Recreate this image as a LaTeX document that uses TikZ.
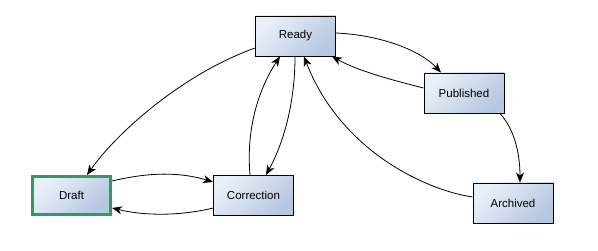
\documentclass[tikz,border=0pt]{standalone}
\usepackage{fontspec}
\setmainfont{Liberation Sans}
\usetikzlibrary{arrows.meta}
\definecolor{boxlight}{HTML}{EAF0F9}
\definecolor{boxdark}{HTML}{B6C7E1}
\definecolor{draftgreen}{HTML}{2E9B63}
\begin{document}
\begin{tikzpicture}[x=1pt,y=1pt,
  state/.style={draw=black, line width=0.9pt, top color=boxlight, bottom color=boxdark, shading angle=45,
    minimum width=80pt, minimum height=40pt, inner sep=0pt, font=\fontsize{11.5}{13}\selectfont},
  initstate/.style={state, draw=draftgreen, line width=3pt, minimum width=78pt, minimum height=38pt},
  edge/.style={draw=black, line width=0.8pt, -{Stealth[length=10pt,width=8pt,inset=3pt]}}]
\useasboundingbox (0,0) rectangle (598,-251);
\fill[white] (0,0) rectangle (598,-251);
\node[state] (ready) at (295.5,-36) {Ready};
\node[state] (published) at (464,-93) {Published};
\node[state] (archived) at (513,-203) {Archived};
\node[initstate] (draft) at (71.5,-195.5) {Draft};
\node[state] (correction) at (253.5,-195.5) {Correction};
% Ready -> Draft
\draw[edge] ([yshift=-12pt]ready.west) .. controls (180,-75) and (115,-135) .. ([xshift=15.5pt]draft.north);
% Draft -> Correction
\draw[edge] ([yshift=14.5pt]draft.east) .. controls (150,-172) and (180,-172) .. ([yshift=13.5pt]correction.west);
% Correction -> Draft
\draw[edge] ([yshift=-12.5pt]correction.west) .. controls (180,-216) and (145,-216) .. ([yshift=-12.5pt]draft.east);
% Correction -> Ready
\draw[edge] ([xshift=-3.5pt]correction.north) .. controls (246,-130) and (258,-90) .. ([xshift=-15.5pt]ready.south);
% Ready -> Correction
\draw[edge] ([xshift=-0.5pt]ready.south) .. controls (295,-100) and (285,-140) .. ([xshift=12.5pt]correction.north);
% Ready -> Published
\draw[edge] ([yshift=3pt]ready.east) .. controls (380,-35) and (420,-50) .. ([xshift=-23pt]published.north);
% Published -> Ready
\draw[edge] ([yshift=5pt]published.west) .. controls (400,-82) and (360,-72) .. ([xshift=-4pt]ready.south east);
% Published -> Archived
\draw[edge] ([xshift=36pt]published.south) .. controls (515,-130) and (520,-155) .. ([xshift=7pt]archived.north);
% Archived -> Ready
\draw[edge] ([yshift=6pt]archived.west) .. controls (425,-190) and (340,-150) .. ([xshift=8.5pt]ready.south);
\end{tikzpicture}
\end{document}
